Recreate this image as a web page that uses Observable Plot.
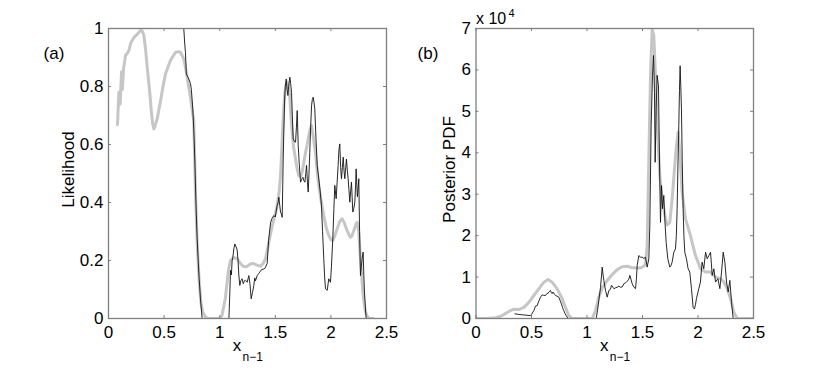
<!DOCTYPE html>
<html>
<head>
<meta charset="utf-8">
<script src="https://cdn.jsdelivr.net/npm/d3@7"></script>
<script src="https://cdn.jsdelivr.net/npm/@observablehq/plot@0.6"></script>
<style>
  html, body { margin: 0; padding: 0; background: #fff; }
  #wrap { display: flex; flex-direction: row; width: 830px; height: 368px; }
</style>
</head>
<body>
<div id="wrap"></div>
<script>
// ---- Panel (a): Likelihood ----
const grayAx = [0.081,0.093,0.105,0.117,0.125,0.135,0.153,0.170,0.183,0.200,0.215,0.235,0.258,0.280,0.294,0.305,0.318,0.333,0.348,0.372,0.387,0.398,0.408,0.420,0.438,0.468,0.490,0.513,0.557,0.603,0.630,0.647,0.677,0.695,0.707,0.737,0.760,0.767,0.782,0.797,0.808,0.818,0.833,0.848,0.872,0.900,0.950,1.000,1.020,1.050,1.080,1.097,1.110,1.130,1.157,1.187,1.210,1.240,1.277,1.300,1.330,1.367,1.390,1.412,1.442,1.472,1.500,1.517,1.535,1.547,1.558,1.568,1.577,1.586,1.597,1.607,1.618,1.628,1.640,1.652,1.665,1.682,1.697,1.711,1.727,1.742,1.757,1.772,1.787,1.801,1.815,1.826,1.840,1.861,1.876,1.891,1.910,1.936,1.960,1.981,2.000,2.017,2.035,2.056,2.080,2.101,2.120,2.140,2.160,2.176,2.190,2.206,2.225,2.236,2.250,2.266,2.287,2.300,2.311,2.330,2.347,2.380];
const grayAy = [0.668,0.78,0.74,0.85,0.79,0.86,0.907,0.915,0.924,0.95,0.96,0.972,0.98,0.99,0.995,0.99,0.976,0.93,0.867,0.775,0.706,0.67,0.654,0.665,0.689,0.75,0.80,0.844,0.89,0.918,0.92,0.918,0.895,0.86,0.832,0.763,0.70,0.683,0.436,0.263,0.18,0.114,0.05,0.022,0.005,0,0,0,0.01,0.068,0.17,0.2,0.205,0.21,0.206,0.19,0.18,0.178,0.188,0.19,0.185,0.18,0.19,0.206,0.263,0.32,0.36,0.39,0.44,0.493,0.58,0.665,0.73,0.78,0.805,0.815,0.80,0.78,0.70,0.642,0.59,0.55,0.515,0.493,0.49,0.505,0.54,0.573,0.60,0.631,0.655,0.665,0.63,0.573,0.51,0.459,0.41,0.355,0.31,0.286,0.272,0.269,0.285,0.309,0.335,0.344,0.33,0.309,0.29,0.28,0.285,0.303,0.325,0.332,0.30,0.206,0.091,0.05,0.022,0.006,0,0];

const blackAx = [0.672,0.677,0.685,0.692,0.700,0.710,0.722,0.737,0.745,0.758,0.767,0.776,0.788,0.797,0.806,0.815,0.827,0.842,0.900,1.000,1.083,1.092,1.097,1.105,1.112,1.118,1.127,1.136,1.145,1.157,1.165,1.172,1.181,1.190,1.202,1.212,1.222,1.232,1.247,1.262,1.272,1.283,1.295,1.307,1.315,1.322,1.337,1.350,1.361,1.375,1.397,1.410,1.427,1.440,1.457,1.470,1.487,1.500,1.508,1.517,1.525,1.532,1.540,1.547,1.555,1.562,1.571,1.583,1.590,1.598,1.606,1.613,1.620,1.631,1.638,1.646,1.653,1.661,1.672,1.682,1.690,1.697,1.706,1.716,1.727,1.737,1.748,1.757,1.766,1.774,1.781,1.789,1.796,1.803,1.810,1.818,1.826,1.833,1.841,1.848,1.855,1.866,1.877,1.891,1.903,1.915,1.925,1.936,1.944,1.952,1.967,1.975,1.981,1.989,1.996,2.005,2.017,2.027,2.035,2.047,2.056,2.065,2.072,2.080,2.088,2.095,2.103,2.111,2.118,2.125,2.133,2.140,2.148,2.155,2.163,2.170,2.178,2.185,2.191,2.197,2.206,2.215,2.222,2.227,2.233,2.238,2.245,2.251,2.258,2.266,2.274,2.281,2.290,2.296,2.302,2.310,2.317,2.400];
const blackAy = [1.02,1.0,0.95,0.918,0.844,0.835,0.826,0.81,0.79,0.723,0.65,0.55,0.378,0.28,0.206,0.14,0.068,0,0,0,0,0.1,0.166,0.15,0.2,0.21,0.24,0.257,0.25,0.236,0.2,0.15,0.114,0.13,0.137,0.12,0.13,0.132,0.125,0.148,0.12,0.068,0.09,0.114,0.14,0.13,0.148,0.155,0.16,0.168,0.171,0.175,0.19,0.27,0.33,0.345,0.355,0.35,0.37,0.39,0.40,0.418,0.39,0.367,0.36,0.349,0.55,0.746,0.80,0.826,0.79,0.769,0.80,0.832,0.81,0.78,0.70,0.62,0.61,0.608,0.66,0.717,0.597,0.53,0.47,0.48,0.487,0.475,0.47,0.50,0.528,0.47,0.436,0.50,0.573,0.66,0.734,0.755,0.763,0.745,0.723,0.62,0.528,0.482,0.44,0.39,0.30,0.206,0.14,0.102,0.097,0.12,0.137,0.13,0.125,0.18,0.275,0.38,0.459,0.413,0.47,0.528,0.58,0.602,0.52,0.482,0.52,0.556,0.51,0.482,0.52,0.55,0.51,0.482,0.44,0.401,0.44,0.47,0.42,0.367,0.38,0.40,0.46,0.516,0.46,0.42,0.45,0.482,0.30,0.148,0.18,0.206,0.229,0.15,0.091,0.04,0,0];

// ---- Panel (b): Posterior PDF (values in units of 10^4) ----
const grayBx = [0,0.10,0.176,0.236,0.296,0.341,0.386,0.431,0.476,0.521,0.566,0.611,0.650,0.686,0.731,0.770,0.806,0.836,0.866,0.950,1.047,1.077,1.106,1.137,1.182,1.227,1.272,1.317,1.362,1.400,1.452,1.482,1.510,1.527,1.542,1.557,1.572,1.587,1.602,1.617,1.632,1.656,1.677,1.707,1.722,1.746,1.767,1.788,1.806,1.821,1.836,1.857,1.887,1.932,1.977,2.023,2.068,2.113,2.158,2.203,2.233,2.263,2.293,2.323,2.353,2.500];
const grayBy = [0,0,0.02,0.07,0.17,0.225,0.217,0.27,0.39,0.555,0.716,0.877,0.94,0.877,0.716,0.515,0.273,0.07,0,0,0,0.19,0.515,0.74,0.917,1.06,1.18,1.25,1.26,1.23,1.22,1.22,1.26,1.32,1.76,3.85,5.87,6.99,6.83,5.87,4.66,3.45,2.89,2.41,2.26,2.32,2.89,3.61,4.18,4.5,4.01,3.05,2.41,2.0,1.52,1.2,1.12,1.12,1.0,0.96,0.88,0.72,0.48,0.15,0,0];

const blackBx = [0.350,0.380,0.416,0.450,0.491,0.500,0.521,0.536,0.551,0.566,0.581,0.596,0.610,0.626,0.638,0.650,0.660,0.671,0.679,0.686,0.693,0.700,0.708,0.716,0.730,0.746,0.758,0.770,0.780,0.791,0.802,0.812,0.830,0.950,1.083,1.095,1.106,1.122,1.137,1.145,1.152,1.167,1.182,1.197,1.210,1.221,1.232,1.242,1.257,1.272,1.287,1.302,1.317,1.332,1.347,1.362,1.377,1.386,1.396,1.407,1.422,1.437,1.445,1.452,1.467,1.482,1.497,1.512,1.527,1.542,1.557,1.566,1.578,1.590,1.599,1.608,1.614,1.623,1.632,1.644,1.653,1.662,1.671,1.680,1.692,1.701,1.713,1.728,1.746,1.757,1.767,1.782,1.797,1.805,1.812,1.820,1.827,1.833,1.839,1.845,1.851,1.858,1.866,1.873,1.881,1.896,1.911,1.926,1.941,1.956,1.968,1.977,1.986,2.007,2.022,2.037,2.052,2.068,2.083,2.098,2.113,2.128,2.143,2.158,2.179,2.197,2.212,2.227,2.242,2.257,2.272,2.287,2.302,2.317];
const blackBy = [0.113,0.10,0.09,0.08,0.07,0.10,0.19,0.30,0.31,0.42,0.515,0.57,0.56,0.555,0.60,0.61,0.65,0.676,0.62,0.60,0.64,0.62,0.58,0.555,0.54,0.515,0.43,0.35,0.26,0.19,0.12,0.07,0,0,0,0.2,0.43,0.755,1.24,1.05,0.917,0.676,0.515,0.676,0.70,0.8,0.76,0.72,0.74,0.755,0.78,0.755,0.76,0.84,0.86,0.9,0.95,1.04,0.95,0.84,0.76,0.72,0.95,1.28,1.52,1.48,1.48,1.45,1.48,1.24,1.44,2.24,4.66,5.87,6.35,5.46,3.77,5.06,5.87,5.62,3.85,2.32,3.21,2.65,2.97,2.41,1.84,1.44,1.24,1.28,1.36,1.6,1.68,2.0,2.65,3.8,4.66,5.5,6.1,5.6,5.06,3.8,2.65,2.0,1.6,1.44,1.2,1.12,0.72,0.27,0.23,0.33,0.48,0.72,0.88,1.36,1.2,1.6,1.44,1.52,1.6,1.04,1.2,0.88,0.96,0.72,1.12,1.6,1.36,0.88,0.64,0.92,0.39,0];

// ---- ticks ----
const xTicks = [0, 0.5, 1, 1.5, 2, 2.5];
const xTickLabels = ["0", "0.5", "1", "1.5", "2", "2.5"];
const yTicksA = [0, 0.2, 0.4, 0.6, 0.8, 1];
const yTickLabelsA = ["0", "0.2", "0.4", "0.6", "0.8", "1"];
const yTicksB = [0, 1, 2, 3, 4, 5, 6, 7];
const yTickLabelsB = ["0", "1", "2", "3", "4", "5", "6", "7"];

const toPts = (xs, ys) => xs.map((x, i) => ({x, y: ys[i]}));

const W = 415, H = 368, MT = 28, MB = 50;
const FH = H - MT - MB;           // frame height
const axisColor = "#7f7f7f";
const FONT = "'Liberation Sans', Arial, Helvetica, sans-serif";

function panel({gray, black, yDomain, yTicks, yLabels, ylab, tag, ml, mr, ylabDx, extra}) {
  const FW = W - ml - mr;
  return Plot.plot({
    width: W, height: H,
    marginLeft: ml, marginRight: mr, marginTop: MT, marginBottom: MB,
    style: {fontFamily: FONT, fontSize: "17px", color: "black", background: "white", overflow: "visible"},
    x: {domain: [0, 2.5]},
    y: {domain: yDomain},
    marks: [
      Plot.line(gray, {x: "x", y: "y", stroke: "#c6c6c6", strokeWidth: 3, clip: true}),
      Plot.line(black, {x: "x", y: "y", stroke: "#111", strokeWidth: 0.9, clip: true}),
      Plot.frame({stroke: axisColor, strokeWidth: 1.3}),
      Plot.tickX(xTicks, {x: d => d, stroke: axisColor, insetTop: FH - 3}),
      Plot.tickX(xTicks, {x: d => d, stroke: axisColor, insetBottom: FH - 3}),
      Plot.tickY(yTicks, {y: d => d, stroke: axisColor, insetRight: FW - 3}),
      Plot.tickY(yTicks, {y: d => d, stroke: axisColor, insetLeft: FW - 3}),
      Plot.axisX(xTicks, {anchor: "bottom", tickSize: 0, tickPadding: 7, label: null,
        tickFormat: d => xTickLabels[xTicks.indexOf(d)], fontSize: 17}),
      Plot.axisY(yTicks, {anchor: "left", tickSize: 0, tickPadding: 5, label: null,
        tickFormat: d => yLabels[yTicks.indexOf(d)], fontSize: 17}),
      Plot.text([ylab], {frameAnchor: "left", text: d => d, rotate: -90, dx: ylabDx, dy: -4,
        textAnchor: "middle", lineAnchor: "middle", fontSize: 17}),
      Plot.text(["x"], {frameAnchor: "bottom", text: d => d, textAnchor: "start", lineAnchor: "bottom",
        dx: -14.8, dy: 32, fontSize: 17}),
      Plot.text(["n\u22121"], {frameAnchor: "bottom", text: d => d, textAnchor: "start", lineAnchor: "bottom",
        dx: -5, dy: 42, fontSize: 12}),
      Plot.text([tag], {frameAnchor: "top-left", text: d => d, textAnchor: "middle", lineAnchor: "middle",
        dx: tag === "(a)" ? -54.5 : -48, dy: 25, fontSize: 17}),
      ...(extra || [])
    ]
  });
}

const wrap = document.getElementById("wrap");
wrap.appendChild(panel({
  gray: toPts(grayAx, grayAy), black: toPts(blackAx, blackAy),
  yDomain: [0, 1], yTicks: yTicksA, yLabels: yTickLabelsA,
  ylab: "Likelihood", tag: "(a)", ml: 108, mr: 29, ylabDx: -40
}));
wrap.appendChild(panel({
  gray: toPts(grayBx, grayBy), black: toPts(blackBx, blackBy),
  yDomain: [0, 7], yTicks: yTicksB, yLabels: yTickLabelsB,
  ylab: "Posterior PDF", tag: "(b)", ml: 60.5, mr: 77, ylabDx: -26,
  extra: [
    Plot.text(["x 10"], {frameAnchor: "top-left", text: d => d, textAnchor: "start", lineAnchor: "bottom",
      dx: 0, dy: -4.7, fontSize: 16}),
    Plot.text(["4"], {frameAnchor: "top-left", text: d => d, textAnchor: "start", lineAnchor: "bottom",
      dx: 32.5, dy: -11.3, fontSize: 11})
  ]
}));
</script>
</body>
</html>
